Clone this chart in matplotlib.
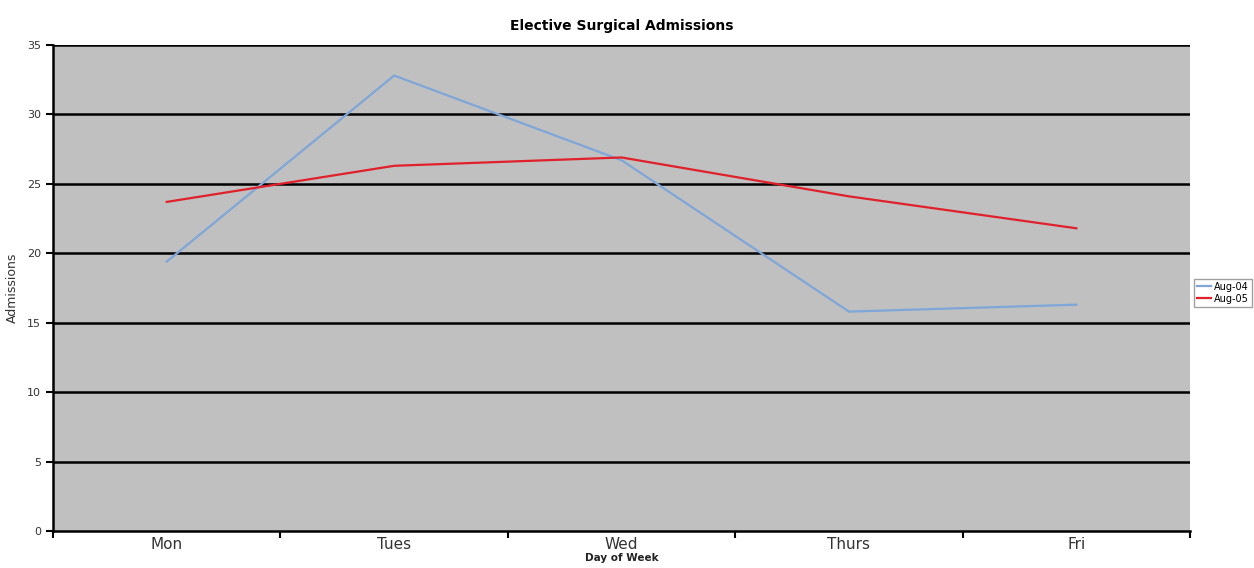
import numpy as np
import matplotlib.pyplot as plt

days = ["Mon", "Tues", "Wed", "Thurs", "Fri"]
aug04 = [19.4, 32.8, 26.7, 15.8, 16.3]
aug05 = [23.7, 26.3, 26.9, 24.1, 21.8]

fig = plt.figure(figsize=(12.54, 5.68), dpi=100)
ax = fig.add_axes([0.0423, 0.0651, 0.9067, 0.8557])
ax.set_facecolor("#c0c0c0")

x = np.arange(len(days)) + 0.5
ax.plot(x, aug04, color="#7fa6d8", lw=1.6, label="Aug-04")
ax.plot(x, aug05, color="#e0202a", lw=1.6, label="Aug-05")

ax.set_xlim(0, len(days))
ax.set_ylim(0, 35)
ax.set_yticks(range(0, 36, 5))
for v in range(5, 36, 5):
    ax.axhline(v, color="black", lw=1.8, zorder=1)

# category labels centred, ticks on the boundaries
ax.set_xticks(np.arange(len(days) + 1))
ax.set_xticklabels([])
ax.set_xticks(x, minor=True)
ax.set_xticklabels(days, minor=True, fontsize=11, color="#333333")
ax.tick_params(axis="x", which="minor", length=0, pad=4)
ax.tick_params(axis="x", which="major", length=5, width=1.5, direction="out")
ax.tick_params(axis="y", length=5, width=1.5, direction="out", labelsize=8)
for lab in ax.get_yticklabels():
    lab.set_color("#333333")

for s in ["top", "right"]:
    ax.spines[s].set_visible(False)
ax.spines["left"].set_linewidth(1.8)
ax.spines["bottom"].set_linewidth(1.8)

ax.set_xlabel("Day of Week", fontsize=7.5, fontweight="bold", labelpad=1, color="#222222")
ax.set_ylabel("Admissions", fontsize=9, labelpad=6, color="#333333")
ax.set_title("Elective Surgical Admissions", fontsize=10, fontweight="bold", pad=11)

ax.legend(loc="center left", bbox_to_anchor=(1.002, 0.49), fontsize=7, frameon=True,
          fancybox=False, edgecolor="#888888", handlelength=1.4, borderpad=0.3,
          labelspacing=0.2, handletextpad=0.3, borderaxespad=0.2)

fig.savefig("out.png", dpi=100)
